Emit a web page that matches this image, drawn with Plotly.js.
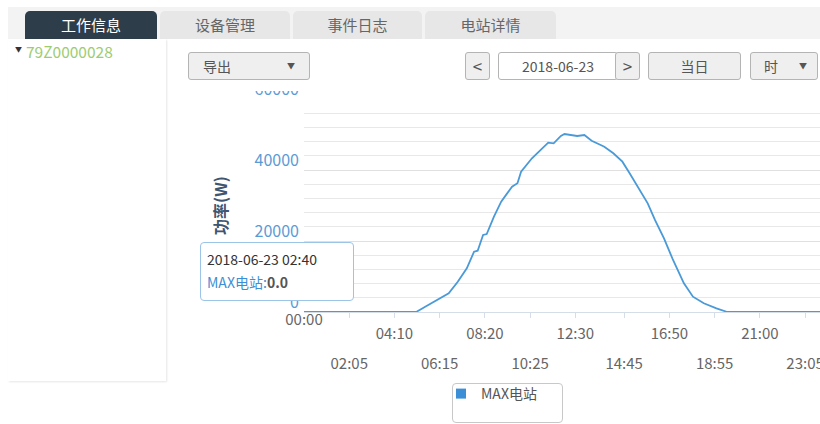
<!DOCTYPE html>
<html>
<head>
<meta charset="utf-8">
<script src="https://cdn.plot.ly/plotly-3.0.1.min.js"></script>
<style>
  html, body { margin: 0; padding: 0; width: 820px; height: 424px; overflow: hidden; background: #fff;
    font-family: "Noto Sans CJK SC", "Noto Sans", sans-serif; }
  #chart { position: absolute; left: 0; top: 0; width: 830px; height: 424px; }
  .abs { position: absolute; box-sizing: border-box; }
  #tabbar { left: 0; top: 0; width: 820px; height: 40px; background: #fff; z-index: 5; }
  #tabband { left: 8px; top: 7px; width: 812px; height: 32px; background: #f3f3f3; }
  .tab { top: 11px; height: 28px; border-radius: 5px 5px 0 0; background: #e7e7e7; color: #666;
    font-size: 15px; line-height: 28px; text-align: center; }
  .tab.active { background: #2d3d4a; color: #fff; }
  #toolbar { left: 168px; top: 39px; width: 652px; height: 52px; background: #fff; z-index: 5; }
  .btn { top: 13px; height: 28px; border: 1px solid #b4b4b4; border-radius: 3px; background: #efefef;
    color: #555; font-size: 14px; line-height: 26px; }
  #sidebar { left: 8px; top: 39px; width: 158px; height: 342px; background: #fff; z-index: 5;
    box-shadow: 1px 1px 2px rgba(0,0,0,0.10); }
  #tooltip { left: 200px; top: 242px; width: 154px; height: 59px; background: #fff; z-index: 6;
    border: 1px solid #9cc4e6; border-radius: 4px; font-size: 14px; color: #333; padding: 5px 0 0 6px; line-height: 23px; }
  #legbox { left: 452px; top: 383px; width: 111px; height: 40px; border: 1px solid #c8c8c8; border-radius: 4px; z-index: 1; }
</style>
</head>
<body>
<div id="chart"></div>

<div id="tabbar" class="abs">
  <div id="tabband" class="abs"></div>
  <div class="abs tab active" style="left:25px;width:132px;">工作信息</div>
  <div class="abs tab" style="left:160px;width:130px;">设备管理</div>
  <div class="abs tab" style="left:293px;width:129px;">事件日志</div>
  <div class="abs tab" style="left:425px;width:131px;">电站详情</div>
</div>

<div id="sidebar" class="abs">
  <div class="abs" style="left:7px;top:5px;font-size:7px;color:#333;">▼</div>
  <div class="abs" style="left:18px;top:1px;font-size:15.5px;color:#9ccc72;">79Z0000028</div>
</div>

<div id="toolbar" class="abs">
  <div class="abs btn" style="left:20px;width:122px;padding-left:14px;">导出<span style="position:absolute;left:98px;font-size:8px;">▼</span></div>
  <div class="abs btn" style="left:297px;width:25px;text-align:center;font-size:17px;">&lt;</div>
  <div class="abs btn" style="left:330px;width:120px;background:#fff;text-align:center;">2018-06-23</div>
  <div class="abs btn" style="left:447px;width:25px;text-align:center;font-size:17px;">&gt;</div>
  <div class="abs btn" style="left:480px;width:93px;text-align:center;">当日</div>
  <div class="abs btn" style="left:582px;width:68px;padding-left:13px;">时<span style="position:absolute;left:48px;font-size:8px;">▼</span></div>
</div>

<div id="tooltip" class="abs">
  <div>2018-06-23 02:40</div>
  <div><span style="color:#3b8fd6;">MAX电站</span><span style="color:#3b8fd6;">:</span><b style="color:#555;">0.0</b></div>
</div>

<div id="legbox" class="abs"></div>

<script>
const day = '2018-06-23';
const times = ['00:00','05:10','05:35','06:10','06:40','07:05','07:30','07:50','08:00','08:15','08:25','08:45',
  '09:05','09:20','09:35','09:50','10:00','10:30','10:50','11:15','11:30','11:50','12:00','12:15','12:35','12:55',
  '13:15','13:40','13:50','14:15','14:40','15:00','15:25','15:50','16:10','16:35','17:00','17:30','17:55','18:25',
  '19:00','19:30','23:55'];
const power = [0,0,1490,3660,5270,8540,12310,16990,17270,21690,21970,26850,
  31070,33200,35300,36260,39520,43300,45160,47690,47520,49580,50140,49860,49580,49860,
  48250,47040,46560,44700,42340,39070,34850,30620,25920,20760,14650,8080,4310,2450,
  1040,0,0];
const seriesName = 'MAX电站';
const tickRowA = ['04:10','08:20','12:30','16:50','21:00'];
const tickRowB = ['02:05','06:15','10:25','14:45','18:55','23:05'];
const tickStart = ['00:00'];
const yTicks = [0, 20000, 40000, 60000];
const yTickText = ['0', '20000', '40000', '60000'];
const yTitle = '功率(W)';

const toDate = t => day + ' ' + t;
const xRange = [toDate('00:00'), '2018-06-24 00:00'];
const lineColor = '#4a9ad8';
const fontFam = '"Noto Sans CJK SC", "Noto Sans", sans-serif';

const data = [
  { type: 'scatter', mode: 'lines', x: times.map(toDate), y: power, name: seriesName,
    line: { color: lineColor, width: 1.8 }, showlegend: false, hoverinfo: 'skip' },
  { type: 'scatter', mode: 'markers', x: [null], y: [null], name: seriesName, xaxis: 'x2',
    marker: { symbol: 'square', size: 10, color: '#3b8fd6' }, showlegend: true },
  { type: 'scatter', mode: 'markers', x: [null], y: [null], name: 'axis', xaxis: 'x3',
    showlegend: false }
];

const baseX = {
  type: 'date', range: xRange, showgrid: false, zeroline: false, fixedrange: true,
  tickfont: { family: fontFam, size: 15, color: '#666' }
};

const layout = {
  width: 830, height: 424,
  margin: { l: 304, r: 5, t: 99, b: 112, pad: 0 },
  paper_bgcolor: '#fff', plot_bgcolor: '#fff',
  font: { family: fontFam },
  xaxis: Object.assign({}, baseX, {
    tickmode: 'array', tickvals: tickRowA.map(toDate), ticktext: tickRowA,
    ticks: 'outside', ticklen: 5, tickcolor: '#d5dde8', showline: true, linecolor: '#d5dde8', linewidth: 1,
    ticklabelstandoff: 3
  }),
  xaxis2: Object.assign({}, baseX, {
    overlaying: 'x', anchor: 'y', side: 'bottom',
    tickmode: 'array', tickvals: tickRowB.map(toDate), ticktext: tickRowB,
    ticks: 'outside', ticklen: 5, tickcolor: '#d5dde8', showline: false,
    ticklabelstandoff: 33
  }),
  xaxis3: Object.assign({}, baseX, {
    overlaying: 'x', anchor: 'y', side: 'bottom',
    tickmode: 'array', tickvals: tickStart.map(toDate), ticktext: tickStart,
    ticks: '', showline: false,
    ticklabelstandoff: -3
  }),
  yaxis: {
    range: [0, 60000], tickmode: 'array', tickvals: yTicks, ticktext: yTickText, fixedrange: true,
    showgrid: true, gridcolor: '#e0e0e0', gridwidth: 1, zeroline: false, showline: false,
    ticks: '', ticklabelshift: -10, ticklabelstandoff: 4,
    tickfont: { family: fontFam, size: 16, color: '#5b9bd5' },
    minor: { dtick: 4000, showgrid: true, gridcolor: '#e8e8e8', gridwidth: 1, ticks: '' },
    title: { text: yTitle, font: { family: fontFam, size: 16, color: '#3f5570', weight: 'bold' }, standoff: 22 }
  },
  showlegend: true,
  legend: {
    x: (441 - 304) / 521, xanchor: 'left', y: (312 - 378) / 213, yanchor: 'top',
    bgcolor: 'rgba(0,0,0,0)', borderwidth: 0, itemwidth: 30,
    font: { family: fontFam, size: 14, color: '#555' }
  },
  hovermode: false
};

Plotly.newPlot('chart', data, layout, { displayModeBar: false, staticPlot: true });
</script>
</body>
</html>
